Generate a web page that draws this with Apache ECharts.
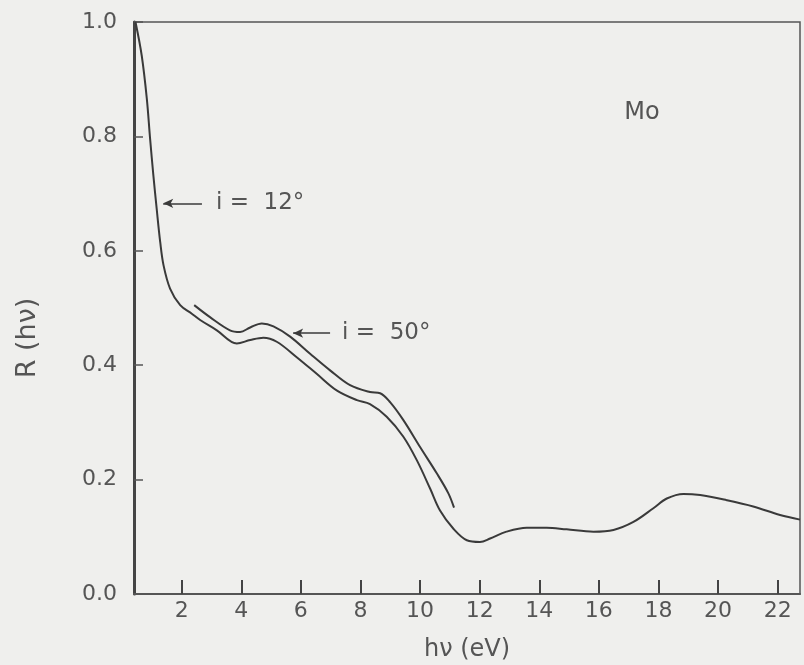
<!DOCTYPE html>
<html>
<head>
<meta charset="utf-8">
<script src="https://cdn.jsdelivr.net/npm/echarts@6/dist/echarts.min.js"></script>
<style>
  html, body { margin: 0; padding: 0; background: #efefed; }
  #chart { width: 804px; height: 665px; }
</style>
</head>
<body>
<div id="chart"></div>
<script>
// hv (eV) and R values
const hv12 = [0.45, 0.66, 0.83, 0.94, 1.05, 1.16, 1.28, 1.39, 1.61, 1.95, 2.34, 2.62, 3.18, 3.85, 4.3, 4.74, 5.19, 5.86, 6.53, 7.2, 7.88, 8.32, 8.88, 9.44, 9.89, 10.34, 10.67, 11.12, 11.57, 12.01, 12.35, 12.9, 13.58, 14.25, 14.92, 15.82, 16.49, 17.16, 17.83, 18.28, 18.84, 19.4, 20.29, 21.18, 22.08, 22.75];
const r12 = [1.0, 0.941, 0.866, 0.796, 0.732, 0.674, 0.615, 0.575, 0.534, 0.505, 0.49, 0.479, 0.461, 0.438, 0.444, 0.448, 0.441, 0.414, 0.385, 0.356, 0.339, 0.332, 0.31, 0.275, 0.234, 0.184, 0.146, 0.114, 0.094, 0.091, 0.097, 0.109, 0.116, 0.116, 0.113, 0.109, 0.112, 0.126, 0.150, 0.167, 0.175, 0.173, 0.164, 0.153, 0.138, 0.130];

const hv50 = [2.42, 2.95, 3.62, 3.96, 4.3, 4.69, 5.08, 5.64, 6.31, 6.98, 7.65, 8.32, 8.66, 9.0, 9.44, 10.0, 10.56, 10.95, 11.14];
const r50 = [0.505, 0.484, 0.461, 0.458, 0.466, 0.473, 0.468, 0.45, 0.42, 0.391, 0.365, 0.353, 0.351, 0.335, 0.304, 0.257, 0.211, 0.176, 0.151];

const xTicks = [2, 4, 6, 8, 10, 12, 14, 16, 18, 20, 22];

const ink = '#3a3a3a';
const txt = '#555';
const font = '"DejaVu Sans", Lato, sans-serif';

const chart = echarts.init(document.getElementById('chart'), null, { renderer: 'canvas' });

const arrowLine = (from, to, text, gap) => ({
  silent: true,
  animation: false,
  symbol: ['arrow', 'none'],
  symbolSize: [7, 10],
  lineStyle: { color: ink, width: 1.5, type: 'solid' },
  label: {
    show: true,
    position: 'end',
    distance: gap,
    formatter: text,
    color: txt,
    fontFamily: font,
    fontSize: 23
  },
  data: [[{ coord: from }, { coord: to }]]
});

chart.setOption({
  backgroundColor: '#efefed',
  animation: false,
  grid: {
    left: 134, right: 4, top: 22, bottom: 71,
    outerBoundsMode: 'none',
    containLabel: false,
    show: true, borderColor: '#555', borderWidth: 1.5
  },
  xAxis: {
    type: 'value',
    min: 0.4,
    max: 22.75,
    name: 'hν (eV)',
    nameLocation: 'middle',
    nameGap: 44,
    nameTextStyle: { color: txt, fontFamily: font, fontSize: 24 },
    axisLine: { lineStyle: { color: '#555', width: 2 } },
    axisTick: { inside: true, length: 14, customValues: xTicks, lineStyle: { color: '#444', width: 2 } },
    axisLabel: { customValues: xTicks, color: txt, fontFamily: font, fontSize: 22, margin: 6 },
    splitLine: { show: false }
  },
  yAxis: {
    type: 'value',
    min: 0,
    max: 1,
    interval: 0.2,
    axisLine: { show: true, lineStyle: { color: '#444', width: 3 } },
    axisTick: { show: true, inside: true, length: 9, lineStyle: { color: '#555', width: 1.5 } },
    axisLabel: {
      color: txt, fontFamily: font, fontSize: 22, margin: 17,
      formatter: v => v.toFixed(1)
    },
    splitLine: { show: false }
  },
  graphic: [{
    type: 'text',
    x: 28, y: 338,
    rotation: Math.PI / 2,
    style: {
      text: 'R (hν)',
      fill: txt,
      font: '27px ' + font,
      align: 'center',
      verticalAlign: 'middle'
    }
  }],
  series: [
    {
      name: 'i = 12°',
      type: 'line',
      data: hv12.map((x, i) => [x, r12[i]]),
      smooth: 0.35,
      showSymbol: false,
      lineStyle: { color: ink, width: 2 },
      markLine: arrowLine([1.38, 0.683], [2.68, 0.683], 'i =  12°', 14),
      markPoint: {
        silent: true,
        symbol: 'circle',
        symbolSize: 0,
        label: {
          show: true, position: 'inside', formatter: 'Mo',
          color: txt, fontFamily: font, fontSize: 24
        },
        data: [{ coord: [17.45, 0.842] }]
      }
    },
    {
      name: 'i = 50°',
      type: 'line',
      data: hv50.map((x, i) => [x, r50[i]]),
      smooth: 0.35,
      showSymbol: false,
      lineStyle: { color: ink, width: 2 },
      markLine: arrowLine([5.74, 0.456], [6.98, 0.456], 'i =  50°', 12)
    }
  ]
});
</script>
</body>
</html>
